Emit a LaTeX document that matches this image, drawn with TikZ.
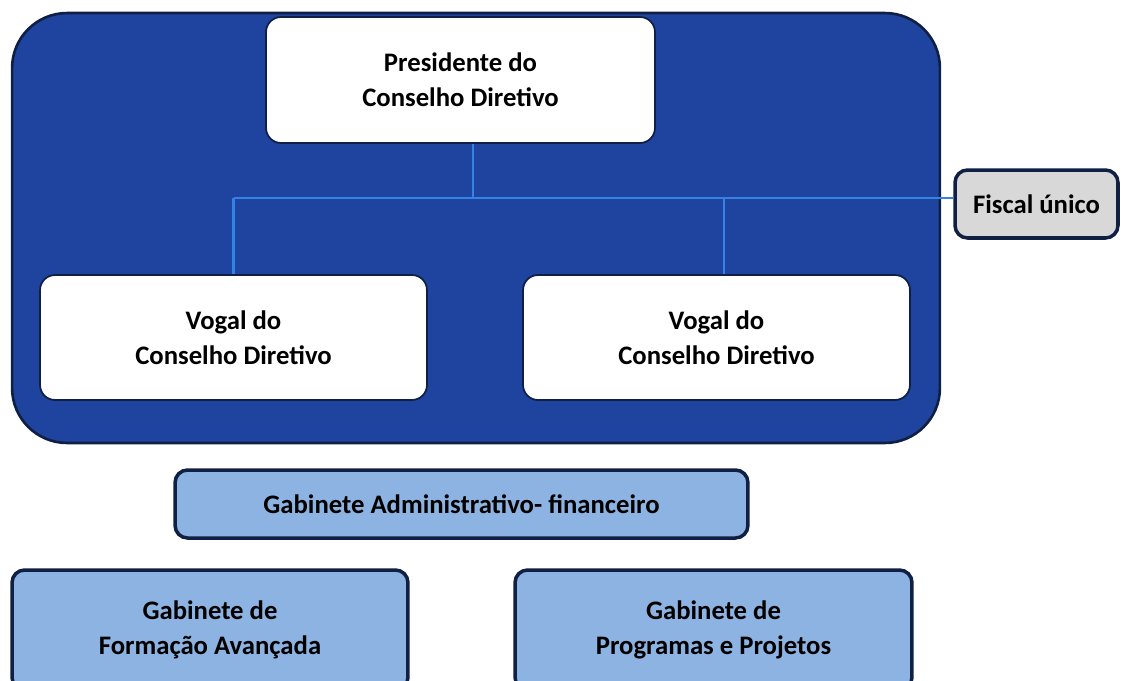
\documentclass[tikz,border=0pt]{standalone}
\usepackage{fontspec}
\setmainfont{Carlito}
\definecolor{myblue}{RGB}{30,68,160}
\definecolor{mynavy}{RGB}{16,32,68}
\definecolor{mylink}{RGB}{52,130,228}
\definecolor{mylight}{RGB}{141,179,226}
\definecolor{mygray}{RGB}{216,216,216}

\tikzset{
    boxtext/.style={align=center, font=\fontsize{15.2}{20}\selectfont\bfseries, text=black, inner sep=0pt},
    council/.style={rectangle, rounded corners=1.1cm, fill=myblue, draw=mynavy, line width=1.5pt},
    chiefbox/.style={boxtext, rectangle, rounded corners=0.3cm, fill=white, draw=mynavy, line width=1pt},
    fiscalbox/.style={boxtext, rectangle, rounded corners=0.25cm, fill=mygray, draw=mynavy, line width=2pt},
    officebox/.style={boxtext, rectangle, rounded corners=0.25cm, fill=mylight, draw=mynavy, line width=2pt},
    link/.style={draw=mylink, line width=1.6pt}
}

\begin{document}
\begin{tikzpicture}[x=0.02cm, y=-0.02cm]
    \useasboundingbox (0, 0) rectangle (1131, 680);
    \clip (0, 0) rectangle (1131, 680);

    % Board of directors
    \node[council, minimum width=18.56cm, minimum height=8.6cm] (board) at (476, 228) {};
    \node[chiefbox, minimum width=7.78cm, minimum height=2.52cm] (pres) at (460.5, 80) {Presidente do\\Conselho Diretivo};
    \node[chiefbox, minimum width=7.74cm, minimum height=2.5cm] (vogalA) at (233.5, 337.5) {Vogal do\\Conselho Diretivo};
    \node[chiefbox, minimum width=7.74cm, minimum height=2.5cm] (vogalB) at (716.5, 337.5) {Vogal do\\Conselho Diretivo};

    % Fiscal
    \node[fiscalbox, minimum width=3.26cm, minimum height=1.36cm] (fiscal) at (1036.5, 204) {Fiscal único};

    % Connectors
    \coordinate (J) at (473, 198);
    \coordinate (K) at (724, 198);
    \draw[link] (pres.south -| J) -- (J);
    \draw[link] (vogalA.north |- J) -- (fiscal.west |- J);
    \draw[link] (vogalA.north |- J) -- (vogalA.north);
    \draw[link] (K) -- (vogalB.north -| K);

    % Offices
    \node[officebox, minimum width=11.46cm, minimum height=1.36cm] (admin) at (461.5, 504) {Gabinete Administrativo- financeiro};
    \node[officebox, minimum width=7.92cm, minimum height=2.4cm] (training) at (210, 630) {Gabinete de\\Formação Avançada};
    \node[officebox, minimum width=7.94cm, minimum height=2.4cm] (projects) at (713.5, 630) {Gabinete de\\Programas e Projetos};
\end{tikzpicture}
\end{document}
